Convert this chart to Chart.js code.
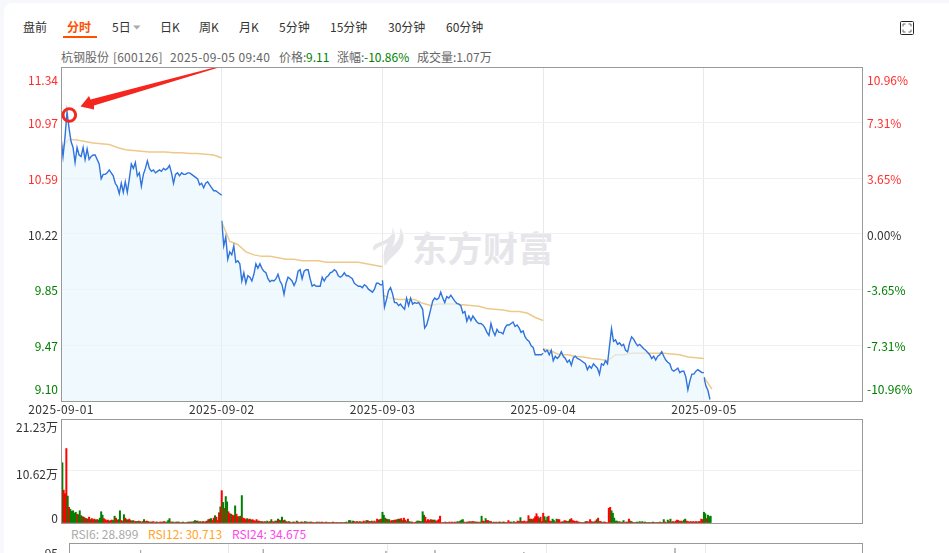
<!DOCTYPE html>
<html lang="zh">
<head>
<meta charset="utf-8">
<title>杭钢股份 分时</title>
<script src="https://cdn.jsdelivr.net/npm/chart.js@4"></script>
<style>
html,body{margin:0;padding:0;width:949px;height:553px;overflow:hidden;background:#f6f8fb;}
#card{position:absolute;left:4px;top:3px;width:960px;height:570px;background:#fff;border-radius:8px;}
.t{position:absolute;font:12px "Noto Sans CJK SC","Noto Sans",sans-serif;white-space:nowrap;line-height:16px;color:#333;}
canvas{position:absolute;left:0;display:block;}
#wm{position:absolute;left:412px;top:224px;font:bold 35px/46px "Noto Sans CJK SC",sans-serif;color:#e6e6ea;letter-spacing:.5px;white-space:nowrap;}
</style>
</head>
<body>
<div id="card"></div>
<svg style="position:absolute;left:371px;top:226px" width="38" height="42" viewBox="0 0 36 42"><path d="M20 1C23 10 14 14 6 17C1 19 0 22 2 25C5 21 11 19 16 17C12 22 10 30 13 40C16 34 22 30 27 24C33 17 33 8 28 2C29 10 26 16 20 21C24 14 24 7 20 1Z" fill="#e6e6ea"/></svg>
<div id="wm">东方财富</div>
<div id="labels"></div>
<svg style="position:absolute;left:899px;top:20px" width="16" height="16" viewBox="0 0 16 16"><rect x="1.5" y="1.5" width="13" height="13" rx="1" fill="#fff" stroke="#222"/><path d="M4 6.5V4H6.5M9.5 4H12V6.5M12 9.5V12H9.5M6.5 12H4V9.5" fill="none" stroke="#666"/></svg>
<svg style="position:absolute;left:132px;top:24px" width="10" height="7"><path d="M1 1.5H8.5L4.75 5.5Z" fill="#aaa"/></svg>
<div style="position:absolute;left:63px;top:36px;width:34px;height:2px;background:#ff5000"></div>
<canvas id="mainChart" width="949" height="370" style="top:60px;width:949px;height:370px"></canvas>
<canvas id="volChart" width="949" height="120" style="top:410px;width:949px;height:120px"></canvas>
<canvas id="rsiChart" width="949" height="100" style="top:535px;width:949px;height:100px"></canvas>
<svg style="position:absolute;left:0;top:0;pointer-events:none" width="949" height="553">
<clipPath id="cp"><rect x="62" y="68" width="800" height="334"/></clipPath>
<g clip-path="url(#cp)">
<polygon points="80.5,106.5 89,96 90.5,99.5 222,65.5 222,66.5 94,105.5 94,109.5" fill="#f5261f"/>
</g>
<circle cx="69.3" cy="115" r="6.3" fill="none" stroke="#f02a20" stroke-width="3"/>
</svg>
<script>
const dates = ['2025-09-01','2025-09-02','2025-09-03','2025-09-04','2025-09-05'];
const priceTicks = [11.34,10.97,10.59,10.22,9.85,9.47,9.10];
const priceLabels = ['11.34','10.97','10.59','10.22','9.85','9.47','9.10'];
const pctLabels = ['10.96%','7.31%','3.65%','0.00%','-3.65%','-7.31%','-10.96%'];
const volTicks = [21.23,10.62,0];
const volLabels = ['21.23万','10.62万','0'];
const tabs = ['盘前','分时','5日','日K','周K','月K','5分钟','15分钟','30分钟','60分钟'];
const tabX = [23,67,112,160,199,239,279,330,388,446];

// price sampled every 3 minutes, per session
const price1 = [10.87,10.74,10.87,11.04,10.93,10.84,10.80,10.70,10.80,10.75,10.74,10.80,10.72,10.79,10.72,10.74,10.75,10.75,10.72,10.69,10.59,10.62,10.62,10.63,10.65,10.63,10.61,10.56,10.54,10.49,10.56,10.50,10.57,10.50,10.59,10.69,10.66,10.70,10.61,10.63,10.54,10.62,10.66,10.71,10.66,10.64,10.65,10.63,10.64,10.65,10.64,10.66,10.65,10.66,10.68,10.63,10.56,10.62,10.63,10.61,10.63,10.62,10.62,10.63,10.63,10.62,10.61,10.60,10.59,10.55,10.56,10.53,10.56,10.57,10.55,10.53,10.51,10.51,10.50,10.49,10.48];
const price2 = [10.31,10.14,10.20,10.05,10.10,10.08,10.14,10.03,10.04,10.02,9.905,9.96,9.89,9.94,9.93,9.905,9.95,10.02,9.99,10.02,9.99,9.97,9.96,9.92,9.90,9.91,9.905,9.92,9.95,9.905,9.88,9.815,9.89,9.93,9.92,9.905,9.875,9.905,9.97,9.98,9.92,9.97,9.98,9.98,9.92,9.87,9.88,9.87,9.87,9.87,9.93,9.905,9.93,9.94,9.96,9.965,9.98,9.97,9.94,9.93,9.94,9.96,9.94,9.94,9.93,9.92,9.89,9.88,9.87,9.87,9.86,9.88,9.87,9.85,9.84,9.83,9.85,9.89,9.89,9.88,9.88];
const price3 = [9.91,9.73,9.78,9.84,9.86,9.82,9.76,9.76,9.74,9.75,9.73,9.715,9.79,9.74,9.79,9.75,9.76,9.755,9.76,9.74,9.715,9.59,9.61,9.66,9.715,9.77,9.79,9.78,9.79,9.83,9.79,9.76,9.80,9.79,9.81,9.79,9.77,9.755,9.75,9.74,9.69,9.70,9.635,9.67,9.64,9.67,9.65,9.63,9.62,9.62,9.61,9.59,9.56,9.54,9.62,9.57,9.54,9.58,9.56,9.56,9.55,9.59,9.61,9.61,9.62,9.63,9.60,9.61,9.59,9.56,9.57,9.53,9.51,9.50,9.47,9.46,9.41,9.41,9.41,9.41,9.42];
const price4 = [9.45,9.43,9.44,9.41,9.44,9.37,9.40,9.385,9.40,9.43,9.40,9.385,9.36,9.375,9.34,9.39,9.40,9.385,9.38,9.37,9.36,9.35,9.31,9.335,9.32,9.35,9.335,9.32,9.28,9.35,9.34,9.37,9.35,9.47,9.585,9.50,9.51,9.48,9.49,9.47,9.48,9.44,9.43,9.49,9.53,9.515,9.49,9.47,9.48,9.465,9.45,9.44,9.425,9.41,9.385,9.40,9.375,9.40,9.41,9.43,9.40,9.375,9.36,9.35,9.31,9.30,9.31,9.32,9.29,9.30,9.30,9.26,9.175,9.235,9.28,9.28,9.30,9.31,9.30,9.29,9.29];
const price5 = [9.26,9.20,9.17,9.11];

// average price sampled every 12 minutes, per session
const avg1 = [10.79,10.855,10.85,10.84,10.83,10.825,10.82,10.80,10.785,10.78,10.775,10.77,10.77,10.77,10.765,10.765,10.76,10.76,10.755,10.75,10.73];
const avg2 = [10.30,10.17,10.15,10.10,10.08,10.07,10.07,10.06,10.05,10.05,10.04,10.04,10.04,10.03,10.03,10.03,10.03,10.03,10.02,10.01,10.00];
const avg3 = [9.81,9.79,9.78,9.78,9.78,9.755,9.74,9.75,9.75,9.75,9.745,9.74,9.735,9.72,9.715,9.71,9.70,9.70,9.69,9.66,9.64];
const avg4 = [9.45,9.435,9.41,9.41,9.40,9.395,9.385,9.38,9.37,9.41,9.41,9.42,9.42,9.42,9.42,9.42,9.415,9.41,9.395,9.39,9.385];
const avg5 = [9.26,9.18];

// volume in 万, sampled every 2 minutes; positive = up (red), negative = down (green)
const vol1 = [21.2,-12.3,6.7,6,15.2,-5.5,3.2,-2.8,-2.4,-2.5,-2,-2.2,1.8,-1.7,-2.5,-1.5,1.3,-1.2,1,-.9,.8,1.2,-.7,.9,.7,.8,-.6,.7,-.6,-1,-2.3,-1.6,.9,.7,.5,.6,-.4,.5,.6,-.5,-1.4,1,.6,-.7,-2.5,.5,.4,-1.7,1,-.7,.6,.8,-.5,.4,-.5,.3,.3,-.3,.4,-.3,.2,.3,-.7,.3,.4,-.3,.2,.2,-.2,.3,.1,.2,-.2,.1,.2,.2,-.2,.3,.2,-.2,-.5,-.9,.2,.2,-.2,.1,-.2,.2,-.2,.1,.1,-.2,.1,-.1,.1,-.2,.2,-.2,.2,-.3,-.5,.4,-.4,.2,-.3,.2,.3,-.2,.3,.4,-.7,.8,-.9,.5,1,-1.5,1.2,.5,2.1,-3.3];
const vol2 = [6.6,-4.2,3,-5.4,-4.3,2.3,1.9,-1.8,1.6,1.5,-3.5,1.8,1.3,-1.3,1.4,-5.6,1,.9,.7,-.9,.7,.8,-.6,.7,.5,.4,.7,-.4,.4,.3,-.3,.2,.3,-.2,-.4,.2,.3,-.7,.3,.2,-.4,.4,-.8,.6,-.5,-1.2,.5,-.6,.3,.2,-.3,.2,.1,-.2,.2,.1,-.4,.2,.1,-.2,.2,.1,-.3,.2,-.2,.1,.2,-.2,.1,.1,-.1,.2,.1,-.2,.1,.2,-.1,.1,.2,-.1,.1,-.1,.1,.2,-.1,.1,.1,-.1,.1,.1,-.1,.1,.1,-.2,.1,-.5,-.5,.2,-.4,.3,.2,-.3,.2,.3,-.2,.2,.4,-.2,.5,-.5,.3,.3,-.4,.2,.4,-.2,.8,.6,-.7,.8];
const vol3 = [-2.2,-1.6,-1,.8,-.7,-.7,.4,.5,-.5,.6,.6,-.7,.8,-.8,.9,-.5,1,.6,-.3,.8,-.3,-.2,.2,.1,.1,.2,-.4,-.4,.3,-.3,-2.3,-1.6,1.2,.4,.7,.5,.7,-.6,.6,-.6,.3,.5,.7,1.4,.1,.1,-.1,.2,.1,-.1,.2,.1,.2,-.1,.2,.1,-.3,.2,-.4,-.6,-.7,.2,.1,-.2,.2,.3,-.2,.3,.3,-.2,.2,-.2,.1,.2,-1.4,.4,.3,-.9,.5,.5,-.3,.3,.1,-.2,.1,.2,-.1,.2,-.2,.1,.2,-.2,.1,.1,.5,.2,-.2,.1,-.3,.1,.2,.4,.3,-1.1,.3,.3,.4,.2,.3,1.5,-.8,.8,-.7,.9,1.3,1.9,1.3,-.9,1.2,.3];
const vol4 = [2,-1.3,.5,-1.2,1.4,.4,.3,-.8,-.5,.2,-.8,.7,.7,.2,.2,-.3,.5,.4,-.3,.4,-.7,.9,.5,.4,.3,.4,-.2,.2,.1,.1,-.1,.2,-.3,.3,.2,.7,.3,-.2,.2,.4,-.7,1,-.3,.3,.1,-.2,.2,.1,.1,3,3.2,-2.5,-2,-1,-.4,-.4,.2,-.3,.1,.2,-.5,.1,.2,-.2,.8,.4,-.3,.1,-.1,.1,-.2,.1,-.3,.1,-.3,.1,-.2,.1,-.1,.1,-.1,.1,-.2,.1,.1,-.1,.1,.2,-.1,.1,-.7,.2,.1,-.6,.3,-.8,.2,.3,-.2,.4,.6,.5,-.3,.4,.3,-.6,-.8,.4,.3,.2,.3,-.2,.3,.2,.3,-.2,.3,.3,.8,.7];
const vol5 = [-2.2,-1.9,.9,-1.6,-1.3,-1.4];

// RSI peaks that reach into the visible strip: minute, value
const rsiMinutes = [108,293,408,478,552,686,914];
const rsiValues = [88,89,84,87,88,86,90];
const rsiNow = ['RSI6: 28.899','RSI12: 30.713','RSI24: 34.675'];
const rsiColors = ['#aaaaaa','#ffa51f','#ff44ee'];
const rsiX = [71,148,232];

const DAY = 240, XMAX = 1196;
const RED='#ff2d2d', GREEN='#008000', DARK='#333333';
const FONT='12px "Noto Sans CJK SC","Noto Sans",sans-serif';

// page text
const host=document.getElementById('labels');
function addText(x,y,s,c,w,ls){const d=document.createElement('div');d.className='t';d.style.left=x+'px';d.style.top=(y-8)+'px';d.textContent=s;if(c)d.style.color=c;if(w)d.style.fontWeight=w;if(ls)d.style.letterSpacing=ls;host.appendChild(d);}
tabs.forEach((s,i)=>addText(tabX[i],27,s,i===1?'#ff5000':DARK,i===1?'700':'400'));
addText(61,57,'杭钢股份','#666');addText(113,57,'[600126]','#666',null,'.2px');addText(170,57,'2025-09-05 09:40','#666',null,'.38px');
addText(279,57,'价格:','#666');addText(306,57,'9.11',GREEN);addText(337,57,'涨幅:','#666');addText(364,57,'-10.86%',GREEN);
addText(417,57,'成交量:1.07万','#666');
rsiNow.forEach((s,i)=>addText(rsiX[i],534,s,rsiColors[i]));

const series=(arr,d,step)=>arr.map((v,i)=>({x:d*DAY+i*step,y:v}));
const dayTicks=dates.map((_,i)=>i*DAY);

const boxPlugin={id:'box',
  beforeDraw(c){c.ctx.letterSpacing='0.4px';},
  afterDatasetsDraw(c){const a=c.chartArea,x=c.ctx;x.save();x.strokeStyle='#999';x.lineWidth=1;x.strokeRect(a.left+.5,a.top+.5,a.right-a.left,a.bottom-a.top);x.restore();}};
function labelPlugin(fn){return {id:'lbl',afterDraw(c){const x=c.ctx;x.save();x.letterSpacing='0px';x.font=FONT;x.textBaseline='middle';fn(c,x);x.restore();}};}

function xAxis(showLabels){return {type:'linear',min:0,max:XMAX,offset:false,
  afterBuildTicks:s=>{s.ticks=dayTicks.map(v=>({value:v}));},
  afterFit:s=>{s.height=showLabels?29:1;},
  ticks:{display:showLabels,autoSkip:false,maxRotation:0,minRotation:0,padding:1,color:DARK,font:{family:'"Noto Sans CJK SC","Noto Sans",sans-serif',size:12},callback:(v,i)=>dates[i]},
  grid:{color:'#e9e9e9',drawTicks:false,offset:false},border:{display:false}};}

const lineStyle={pointRadius:0,borderWidth:1.4,tension:0,borderColor:'#2f73dc',fill:'start',backgroundColor:'rgba(232,246,254,0.65)',spanGaps:false};
const avgStyle={pointRadius:0,borderWidth:1.5,tension:0,borderColor:'#edc98b',fill:false};
const priceSets=[price1,price2,price3,price4,price5].map((a,d)=>Object.assign({data:series(a,d,3)},lineStyle));
const avgSets=[avg1,avg2,avg3,avg4,avg5].map((a,d)=>Object.assign({data:series(a,d,12)},avgStyle));

new Chart(document.getElementById('mainChart'),{type:'line',
 data:{datasets:priceSets.concat(avgSets)},
 options:{responsive:false,animation:false,devicePixelRatio:1,
  layout:{autoPadding:false,padding:{left:61,right:87,top:7,bottom:0}},
  plugins:{legend:{display:false},tooltip:{enabled:false}},
  scales:{x:xAxis(true),
   y:{min:9.10,max:11.34,afterBuildTicks:s=>{s.ticks=priceTicks.map(v=>({value:v}));},ticks:{display:false},grid:{color:'#f0f0f0',drawTicks:false},border:{display:false}}}},
 plugins:[boxPlugin,labelPlugin((c,x)=>{const s=c.scales.y;
   priceTicks.forEach((v,i)=>{let y=s.getPixelForValue(v)+1;if(i===0)y+=12;if(i===priceTicks.length-1)y-=12.5;
     const col=i<3?RED:(i===3?DARK:GREEN);x.fillStyle=col;
     x.textAlign='right';x.fillText(priceLabels[i],58,y);
     x.textAlign='left';x.fillText(pctLabels[i],867,y);});})]});

const volAll=[vol1,vol2,vol3,vol4,vol5].flatMap((a,d)=>a.map((v,i)=>({x:d*DAY+i*2,y:Math.abs(v),up:v>0})));
new Chart(document.getElementById('volChart'),{type:'bar',
 data:{datasets:[{data:volAll,backgroundColor:ctx=>ctx.raw&&ctx.raw.up?'#ff0000':'#008000',barPercentage:1,categoryPercentage:1,borderWidth:0}]},
 options:{responsive:false,animation:false,devicePixelRatio:1,
  layout:{autoPadding:false,padding:{left:61,right:87,top:9,bottom:0}},
  plugins:{legend:{display:false},tooltip:{enabled:false}},
  scales:{x:Object.assign(xAxis(false),{afterFit:s=>{s.height=7;}}),
   y:{min:0,max:21.23,afterBuildTicks:s=>{s.ticks=volTicks.map(v=>({value:v}));},ticks:{display:false},grid:{color:'#f0f0f0',drawTicks:false},border:{display:false}}}},
 plugins:[boxPlugin,labelPlugin((c,x)=>{const s=c.scales.y;x.fillStyle=DARK;x.textAlign='right';
   volTicks.forEach((v,i)=>{let y=s.getPixelForValue(v);y+=[8,3,-5][i];x.fillText(volLabels[i],58,y);});})]});

const rsiSets=rsiMinutes.map((m,i)=>({data:[{x:m-2,y:rsiValues[i]-25},{x:m,y:rsiValues[i]},{x:m+2,y:rsiValues[i]-25}],pointRadius:0,borderWidth:1,borderColor:'#aaaaaa',tension:0,fill:false}));
new Chart(document.getElementById('rsiChart'),{type:'line',
 data:{datasets:rsiSets},
 options:{responsive:false,animation:false,devicePixelRatio:1,
  layout:{autoPadding:false,padding:{left:61,right:87,top:8,bottom:0}},
  plugins:{legend:{display:false},tooltip:{enabled:false}},
  scales:{x:Object.assign(xAxis(false),{afterFit:s=>{s.height=2;}}),
   y:{min:5,max:95,ticks:{display:false},grid:{display:false},border:{display:false}}}},
 plugins:[boxPlugin,labelPlugin((c,x)=>{const s=c.scales.y;x.fillStyle=DARK;x.textAlign='right';x.fillText('95',58,s.getPixelForValue(95)+10);})]});
</script>
</body>
</html>
